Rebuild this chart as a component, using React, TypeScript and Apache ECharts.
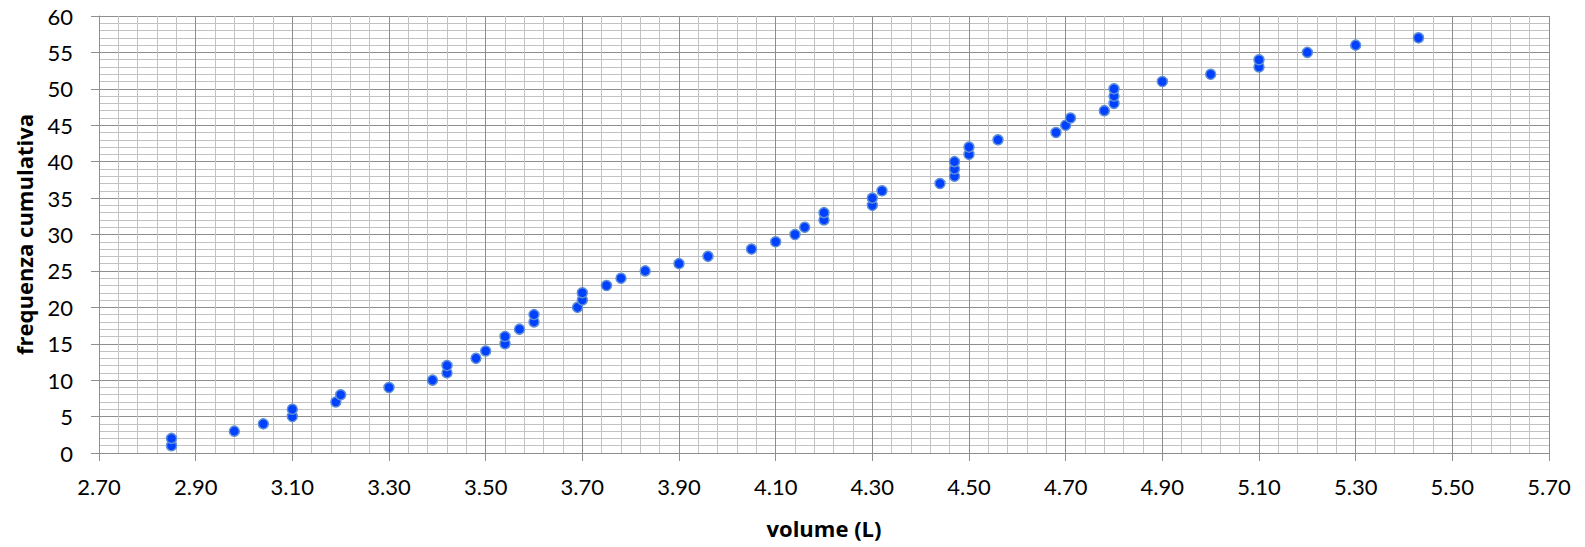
import React, { useEffect, useRef } from "react";
import * as echarts from "echarts";

// volume (L) readings, sorted; cumulative frequency is 1..N
const volumes: number[] = [
  2.85, 2.85, 2.98, 3.04, 3.1, 3.1, 3.19, 3.2, 3.3, 3.39,
  3.42, 3.42, 3.48, 3.5, 3.54, 3.54, 3.57, 3.6, 3.6, 3.69,
  3.7, 3.7, 3.75, 3.78, 3.83, 3.9, 3.96, 4.05, 4.1, 4.14,
  4.16, 4.2, 4.2, 4.3, 4.3, 4.32, 4.44, 4.47, 4.47, 4.47,
  4.5, 4.5, 4.56, 4.68, 4.7, 4.71, 4.78, 4.8, 4.8, 4.8,
  4.9, 5.0, 5.1, 5.1, 5.2, 5.3, 5.43,
];
const cumulative: number[] = [
  1, 2, 3, 4, 5, 6, 7, 8, 9, 10,
  11, 12, 13, 14, 15, 16, 17, 18, 19, 20,
  21, 22, 23, 24, 25, 26, 27, 28, 29, 30,
  31, 32, 33, 34, 35, 36, 37, 38, 39, 40,
  41, 42, 43, 44, 45, 46, 47, 48, 49, 50,
  51, 52, 53, 54, 55, 56, 57,
];

const X_MIN = 2.7;
const X_MAX = 5.7;
const X_STEP = 0.2;
const Y_MIN = 0;
const Y_MAX = 60;
const Y_STEP = 5;

const xTitle = "volume (L)";
const yTitle = "frequenza cumulativa";

export default function App() {
  const ref = useRef<HTMLDivElement>(null);

  useEffect(() => {
    if (!ref.current) return;
    const chart = echarts.init(ref.current, null, { renderer: "svg" });
    const font = "Lato, 'Open Sans', sans-serif";
    const titleFont = "'Open Sans', Lato, sans-serif";
    const major = "#8e8e8e";
    const minor = "#c2c2c2";

    // offset x so the axis starts at 0 (a multiple of the interval)
    const data = volumes.map((v, i) => [v - X_MIN, cumulative[i]]);

    chart.setOption({
      animation: false,
      backgroundColor: "#ffffff",
      grid: { left: 99, right: 36, top: 16, bottom: 94, containLabel: false },
      xAxis: {
        type: "value",
        min: 0,
        max: X_MAX - X_MIN,
        interval: X_STEP,
        name: xTitle,
        nameLocation: "middle",
        nameGap: 64,
        nameTextStyle: { fontFamily: titleFont, fontSize: 22, fontWeight: "bold", color: "#000" },
        axisLine: { show: true, lineStyle: { color: major, width: 1 } },
        axisTick: { show: true, length: 8, lineStyle: { color: major } },
        axisLabel: {
          margin: 22,
          fontFamily: font,
          fontSize: 22,
          color: "#000",
          formatter: (v: number) => (v + X_MIN).toFixed(2),
        },
        splitLine: { show: true, lineStyle: { color: major, width: 1 } },
        minorTick: { show: false, splitNumber: 5 },
        minorSplitLine: { show: true, lineStyle: { color: minor, width: 1 } },
      },
      yAxis: {
        type: "value",
        min: Y_MIN,
        max: Y_MAX,
        interval: Y_STEP,
        name: yTitle,
        nameLocation: "middle",
        nameGap: 64,
        nameRotate: 90,
        nameTextStyle: { fontFamily: titleFont, fontSize: 22, fontWeight: "bold", color: "#000" },
        axisLine: { show: true, lineStyle: { color: major, width: 1 } },
        axisTick: { show: true, length: 8, lineStyle: { color: major } },
        axisLabel: { margin: 26, fontFamily: font, fontSize: 22, color: "#000" },
        splitLine: { show: true, lineStyle: { color: major, width: 1 } },
        minorTick: { show: false, splitNumber: 5 },
        minorSplitLine: { show: true, lineStyle: { color: minor, width: 1 } },
      },
      series: [
        {
          type: "scatter",
          data,
          symbol: "circle",
          symbolSize: 10,
          itemStyle: {
            color: "#0040ff",
            borderColor: "#5f8fd6",
            borderWidth: 1.5,
            opacity: 1,
          },
        },
      ],
    });

    return () => chart.dispose();
  }, []);

  return (
    <div
      ref={ref}
      style={{ position: "fixed", left: 0, top: 0, width: 1585, height: 547, background: "#fff" }}
    />
  );
}
